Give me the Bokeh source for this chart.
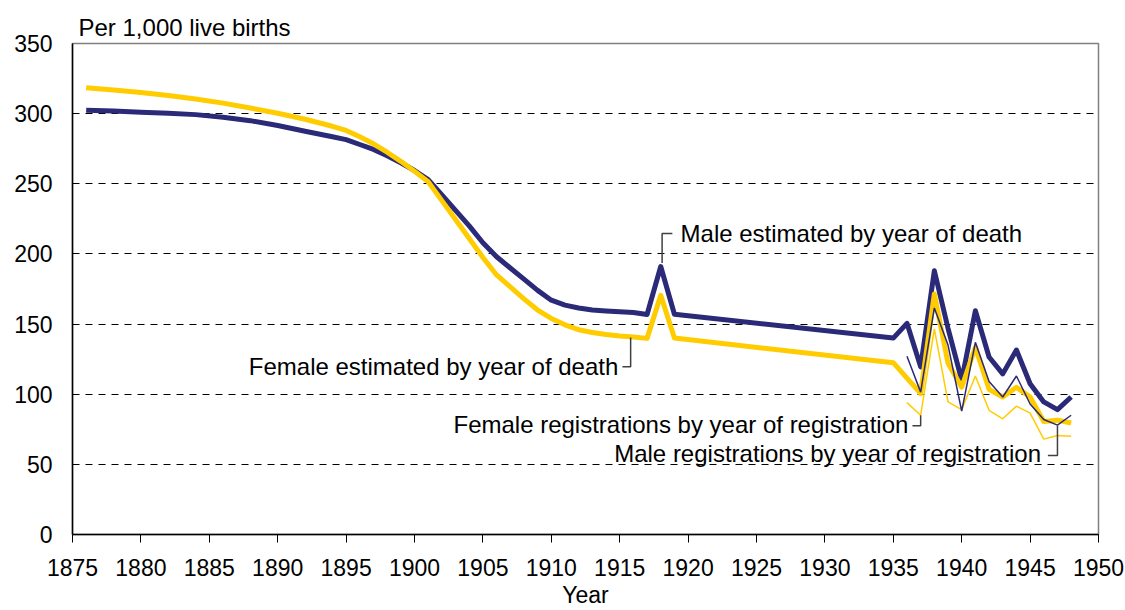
from bokeh.plotting import figure
from bokeh.models import Range1d, FixedTicker, Label
from bokeh.embed import file_html
from bokeh.resources import INLINE

# ---- data ----
est_years = [1876, 1878, 1880, 1882, 1884, 1886, 1888, 1890, 1892, 1894, 1895, 1896,
             1897, 1898, 1899, 1900, 1901, 1902, 1903, 1904, 1905, 1906, 1907, 1908,
             1909, 1910, 1911, 1912, 1913, 1914, 1915, 1916, 1917, 1918, 1919, 1935,
             1936, 1937, 1938, 1939, 1940, 1941, 1942, 1943, 1944, 1945, 1946, 1947, 1948]
male_est = [302.5, 301.8, 301.0, 300.2, 299.3, 297.5, 295.0, 291.5, 287.5, 283.5, 281.5, 278.0,
            274.5, 270.0, 265.0, 259.5, 253.0, 242.0, 231.0, 220.0, 208.0, 198.0, 190.0, 182.0,
            174.0, 167.0, 163.5, 161.5, 160.0, 159.3, 158.7, 158.3, 156.8, 191.0, 157.0, 140.0,
            150.5, 119.5, 188.0, 147.0, 110.0, 159.5, 126.5, 114.5, 131.5, 107.5, 94.5, 89.0, 98.0]
female_est = [318.5, 316.8, 315.0, 313.0, 310.5, 307.5, 304.0, 300.3, 296.0, 291.0, 288.0, 283.5,
              278.5, 272.5, 266.0, 259.0, 251.5, 238.0, 224.5, 211.0, 197.5, 185.0, 176.5, 168.0,
              160.0, 154.0, 149.5, 146.0, 144.0, 142.5, 141.5, 140.8, 139.8, 170.5, 140.0, 122.5,
              111.5, 100.5, 171.5, 122.0, 105.0, 133.5, 103.5, 98.0, 105.0, 98.0, 80.5, 81.5, 79.5]

reg_years = [1936, 1937, 1938, 1939, 1940, 1941, 1942, 1943, 1944, 1945, 1946, 1947, 1948]
male_reg = [127.0, 101.5, 161.5, 135.0, 88.0, 137.0, 109.0, 98.0, 113.0, 93.0, 82.0, 78.0, 85.0]
female_reg = [94.0, 85.0, 146.5, 94.5, 89.0, 113.0, 88.5, 82.5, 91.5, 86.5, 68.0, 70.5, 70.0]

x_ticks = list(range(1875, 1951, 5))
y_ticks = list(range(0, 351, 50))

NAVY = "#2b2a78"
GOLD = "#ffcc00"
LEAD = "#404040"
FONT = "Liberation Sans"

p = figure(width=1125, height=610, output_backend="svg", toolbar_location=None,
           x_range=Range1d(1875, 1950), y_range=Range1d(0, 350),
           min_border_left=72, min_border_right=27, min_border_top=43, min_border_bottom=76,
           title="Per 1,000 live births")
p.title.align = "left"
p.title.offset = 6
p.title.standoff = 5
p.title.text_font = FONT
p.title.text_font_size = "24px"
p.title.text_font_style = "normal"
p.title.text_color = "black"

p.background_fill_color = "white"
p.border_fill_color = "white"
p.outline_line_color = "#808080"
p.outline_line_width = 1.5

p.xgrid.visible = False
p.ygrid.ticker = FixedTicker(ticks=[50, 100, 150, 200, 250, 300])
p.ygrid.grid_line_color = "black"
p.ygrid.grid_line_dash = "7 6"
p.ygrid.grid_line_width = 1

for ax in (p.xaxis[0], p.yaxis[0]):
    ax.axis_line_color = "black"
    ax.axis_line_width = 1.5
    ax.major_label_text_font = FONT
    ax.major_label_text_font_size = "23px"
    ax.major_label_text_color = "black"
    ax.minor_tick_line_color = None

p.xaxis.ticker = FixedTicker(ticks=x_ticks)
p.xaxis.major_tick_out = 8
p.xaxis.major_tick_in = 0
p.xaxis.major_tick_line_color = "black"
p.xaxis.major_label_standoff = 16
p.xaxis.axis_label = "Year"
p.xaxis.axis_label_standoff = 3
p.xaxis.axis_label_text_font = FONT
p.xaxis.axis_label_text_font_size = "23px"
p.xaxis.axis_label_text_font_style = "normal"
p.xaxis.axis_label_text_color = "black"

p.yaxis.ticker = FixedTicker(ticks=y_ticks)
p.yaxis.major_tick_out = 0
p.yaxis.major_tick_in = 0
p.yaxis.major_label_standoff = 20

# ---- series ----
p.line(est_years, male_est, line_color=NAVY, line_width=5, line_join="round")
p.line(est_years, female_est, line_color=GOLD, line_width=5, line_join="round")
p.line(reg_years, female_reg, line_color=GOLD, line_width=1.5)
p.line(reg_years, male_reg, line_color=NAVY, line_width=1.5)

# ---- leader lines ----
p.line([1918.1, 1918.1, 1918.85], [193.5, 214.6, 214.6], line_color=LEAD, line_width=1.5)
p.line([1915.8, 1915.8, 1915.2], [140.5, 119.6, 119.6], line_color=LEAD, line_width=1.5)
p.line([1937.0, 1937.0, 1936.4], [85.0, 77.6, 77.6], line_color=LEAD, line_width=1.5)
p.line([1947.0, 1947.0, 1946.3], [77.5, 56.3, 56.3], line_color=LEAD, line_width=1.5)

def lab(x, y, t, align, size="24px"):
    p.add_layout(Label(x=x, y=y, text=t, text_align=align, text_baseline="middle",
                       text_font=FONT, text_font_size=size, text_color="black"))

lab(1919.45, 214.6, "Male estimated by year of death", "left")
lab(1914.9, 119.6, "Female estimated by year of death", "right")
lab(1936.1, 78.5, "Female registrations by year of registration", "right")
lab(1945.8, 57.5, "Male registrations by year of registration", "right")

open("out.html", "w").write(file_html(p, INLINE))
